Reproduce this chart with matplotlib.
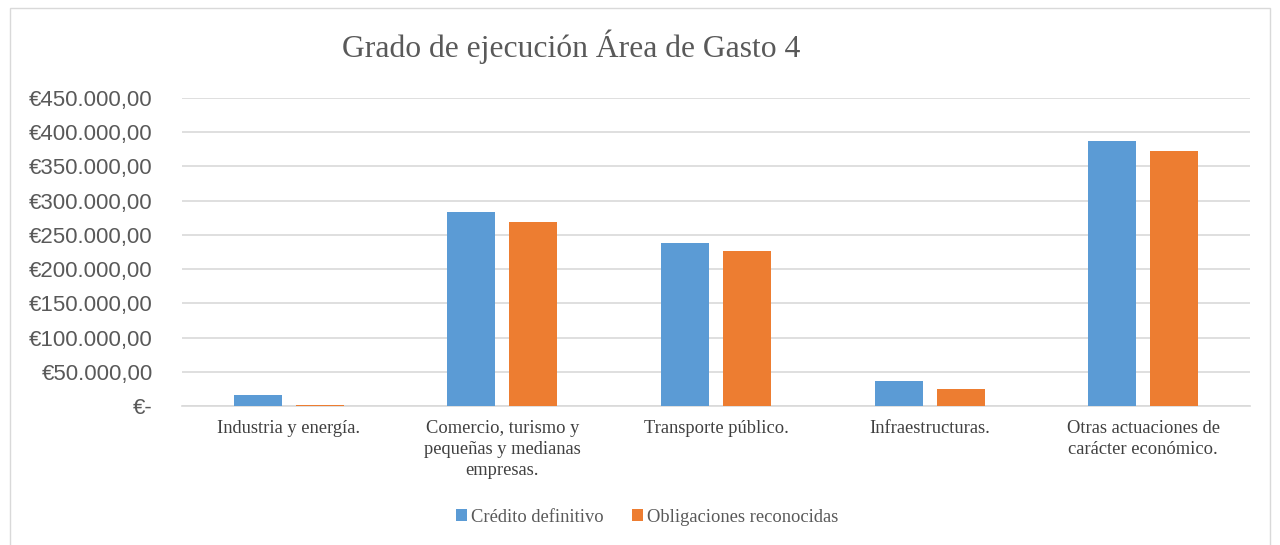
import numpy as np
import matplotlib
matplotlib.use("Agg")
import matplotlib.pyplot as plt
from matplotlib.patches import Rectangle
from matplotlib.ticker import FuncFormatter

# ── Data ─────────────────────────────────────────────────────────────────────
categories = [
    "Industria y energía.",
    "Comercio, turismo y\npequeñas y medianas\nempresas.",
    "Transporte público.",
    "Infraestructuras.",
    "Otras actuaciones de\ncarácter económico.",
]
credito = [15600, 283500, 238000, 36000, 386700]
obligaciones = [1000, 269000, 226500, 24800, 372100]
series_names = ["Crédito definitivo", "Obligaciones reconocidas"]
yticks = np.arange(0, 450001, 50000)


def euro_fmt(v, pos):
    if v == 0:
        return "€-"
    s = f"{v:,.2f}"
    s = s.replace(",", "X").replace(".", ",").replace("X", ".")
    return "€" + s


fig = plt.figure(figsize=(12.8, 5.45), dpi=100)
fig.patches.append(Rectangle((10 / 1280, -0.01), 1260 / 1280, 1 - 8 / 545 + 0.01,
                             transform=fig.transFigure, fill=False,
                             edgecolor="#d9d9d9", lw=1))
ax = fig.add_axes([182 / 1280, 1 - 406 / 545, 1068 / 1280, 308 / 545])

x = np.arange(len(categories))
w = 0.225
off = 0.145
ax.bar(x - off, credito, w, color="#5b9bd5", label=series_names[0], zorder=3)
ax.bar(x + off, obligaciones, w, color="#ed7d31", label=series_names[1], zorder=3)

ax.set_xlim(-0.5, len(categories) - 0.5)
ax.set_ylim(0, 450000)
ax.set_yticks(yticks)
ax.yaxis.set_major_formatter(FuncFormatter(euro_fmt))
ax.set_xticks(x)
ax.set_xticklabels(categories, family="Liberation Serif", fontsize=13.3,
                   color="#404040", linespacing=1.33)
ax.tick_params(axis="x", length=0, pad=10)
ax.tick_params(axis="y", length=0, pad=21, labelsize=16, labelcolor="#595959")
for lab in ax.get_yticklabels():
    lab.set_family("Liberation Sans")

ax.grid(axis="y", color="#d9d9d9", lw=1.2, zorder=0)
for s in ["left", "right", "top"]:
    ax.spines[s].set_visible(False)
ax.spines["bottom"].set_color("#d9d9d9")
ax.spines["bottom"].set_linewidth(1.2)

fig.text(571 / 1280, 1 - 47 / 545, "Grado de ejecución Área de Gasto 4",
         family="Liberation Serif", fontsize=22.8, color="#595959",
         ha="center", va="center")

fig.legend(loc="center", bbox_to_anchor=(647 / 1280, 1 - 517 / 545), ncol=2,
           frameon=False, prop={"family": "Liberation Serif", "size": 13.3},
           handlelength=0.6, handleheight=0.6, handletextpad=0.2,
           columnspacing=1.55, labelcolor="#595959")

fig.savefig("out.png", dpi=100)
